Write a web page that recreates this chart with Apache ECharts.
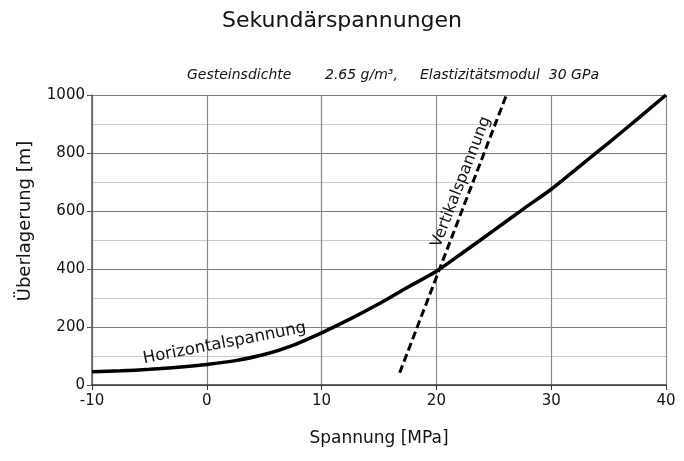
<!DOCTYPE html>
<html>
<head>
<meta charset="utf-8">
<script src="https://cdn.jsdelivr.net/npm/echarts@6/dist/echarts.min.js"></script>
<style>
  html, body { margin: 0; padding: 0; background: #fff; }
  #main { width: 684px; height: 461px; }
</style>
</head>
<body>
<div id="main"></div>
<script>
// Horizontalspannung: Spannung [MPa] vs Überlagerung [m]
const horizX = [-10, -7.5, -5, -2.5, 0, 2.5, 5, 7.5, 10, 12.5, 15, 17.5, 20, 22.5, 25, 27.5, 30, 32.5, 35, 37.5, 40];
const horizY = [46, 49, 54, 61, 71, 84, 105, 137, 180, 228, 280, 337, 392, 462, 533, 605, 675, 755, 835, 917, 1000];
// Vertikalspannung (gestrichelt)
const vertX = [16.8, 26.1];
const vertY = [42, 1000];

const titleText = "Sekundärspannungen";
const xName = "Spannung [MPa]";
const yName = "Überlagerung [m]";

const font = "DejaVu Sans";

let myChart = echarts.init(document.getElementById("main"));

const pairs = (xs, ys) => xs.map((x, i) => [x, ys[i]]);

let option = {
  animation: false,
  backgroundColor: "#fff",
  textStyle: { fontFamily: font },
  title: {
    text: titleText,
    left: "center",
    top: 5,
    textStyle: { fontFamily: font, fontSize: 22, fontWeight: "normal", color: "#111" }
  },
  grid: { left: 92, right: 18, top: 95, bottom: 76 },
  xAxis: {
    type: "value",
    min: -10,
    max: 40,
    interval: 10,
    name: xName,
    nameLocation: "middle",
    nameGap: 45,
    nameTextStyle: { fontFamily: font, fontSize: 17, color: "#111" },
    axisLine: { onZero: false, lineStyle: { color: "#333", width: 1.5 } },
    axisTick: { show: true, length: 5, lineStyle: { color: "#333" } },
    axisLabel: { fontSize: 15, color: "#111", margin: 9 },
    splitLine: { show: true, lineStyle: { color: "#8a8a8a", width: 1.2 } }
  },
  yAxis: {
    type: "value",
    min: 0,
    max: 1000,
    interval: 200,
    name: yName,
    nameLocation: "middle",
    nameGap: 58,
    nameTextStyle: { fontFamily: font, fontSize: 18, color: "#111", padding: [0, 0, 0, 38] },
    axisLine: { show: true, onZero: false, lineStyle: { color: "#555", width: 1.5 } },
    axisTick: { show: true, length: 5, lineStyle: { color: "#555" } },
    axisLabel: { fontSize: 15, color: "#111", margin: 7, formatter: v => String(v) },
    splitLine: { show: true, lineStyle: { color: "#7a7a7a", width: 1.2 } },
    minorTick: { show: false, splitNumber: 2 },
    minorSplitLine: { show: true, lineStyle: { color: "#c8c8c8", width: 1 } }
  },
  series: [
    {
      name: "Horizontalspannung",
      type: "line",
      smooth: 0.3,
      symbol: "none",
      data: pairs(horizX, horizY),
      lineStyle: { color: "#000", width: 3.5 }
    },
    {
      name: "Vertikalspannung",
      type: "line",
      symbol: "none",
      data: pairs(vertX, vertY),
      lineStyle: { color: "#000", width: 3, type: [8, 4] }
    }
  ]
};

myChart.setOption(option);

// labels along the curves and the subtitle, placed via the chart's own scales
const p = (x, y) => myChart.convertToPixel({ gridIndex: 0 }, [x, y]);
const hPos = p(-5.4, 61);
const vPos = p(22.8, 690);
const subY = p(0, 1000)[1] - 27;
const subFont = "italic 14px " + font;

myChart.setOption({
  graphic: [
    {
      type: "text", x: 187, y: subY,
      style: { text: "Gesteinsdichte", font: subFont, fill: "#111" }
    },
    {
      type: "text", x: 325, y: subY,
      style: { text: "2.65 g/m³,", font: subFont, fill: "#111" }
    },
    {
      type: "text", x: 420, y: subY,
      style: { text: "Elastizitätsmodul  30 GPa", font: subFont, fill: "#111" }
    },
    {
      type: "text", x: hPos[0], y: hPos[1], rotation: 0.19,
      style: { text: "Horizontalspannung", font: "16.5px " + font, fill: "#111", textVerticalAlign: "bottom" }
    },
    {
      type: "text", x: vPos[0], y: vPos[1], rotation: 1.2,
      style: { text: "Vertikalspannung", font: "16px " + font, fill: "#111", textAlign: "center", textVerticalAlign: "bottom" }
    }
  ]
});
</script>
</body>
</html>
